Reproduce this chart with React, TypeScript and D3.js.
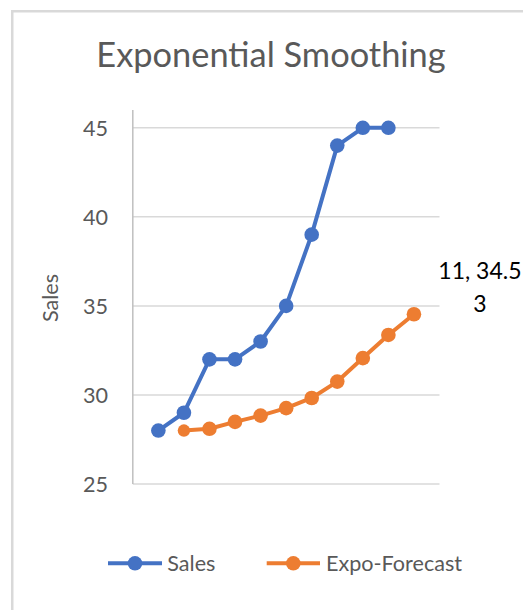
import React from "react";
import * as d3 from "d3";

const salesX = [1, 2, 3, 4, 5, 6, 7, 8, 9, 10];
const salesValues = [28, 29, 32, 32, 33, 35, 39, 44, 45, 45];
const forecastX = [2, 3, 4, 5, 6, 7, 8, 9, 10, 11];
const forecastValues = [28, 28.1, 28.49, 28.84, 29.26, 29.83, 30.75, 32.07, 33.37, 34.53];
const yTicks = [25, 30, 35, 40, 45];
const title = "Exponential Smoothing";
const yTitle = "Sales";
const seriesNames = ["Sales", "Expo-Forecast"];
const lastLabel = ["11, 34.5", "3"];

const BLUE = "#4472C4";
const ORANGE = "#ED7D31";
const FONT = "Lato, 'Open Sans', sans-serif";

export default function App() {
  const W = 523;
  const H = 610;
  const x = d3.scaleLinear().domain([0, 12]).range([132.8, 439.5]);
  const y = d3.scaleLinear().domain([25, 46]).range([484, 110]);

  const line = d3
    .line<[number, number]>()
    .x((d) => x(d[0]))
    .y((d) => y(d[1]));

  const salesPts: [number, number][] = salesX.map((v, i) => [v, salesValues[i]]);
  const fcPts: [number, number][] = forecastX.map((v, i) => [v, forecastValues[i]]);
  const last = fcPts[fcPts.length - 1];

  const r = 7.3;
  const lw = 4;
  const fs = 21.6;

  return (
    <div style={{ position: "absolute", left: 0, top: 0 }}>
      <svg width={W} height={H} style={{ display: "block", background: "#fff" }}>
        <rect x={12.25} y={11.25} width={700} height={800} fill="#fff" stroke="#d9d9d9" strokeWidth={2.5} />
        <text x={271} y={67} textAnchor="middle" fontFamily={FONT} fontSize={34.4} fill="#595959">
          {title}
        </text>
        {yTicks.map((t) => (
          <g key={t}>
            <line x1={x(0)} x2={x(12)} y1={y(t)} y2={y(t)} stroke="#d9d9d9" strokeWidth={1.5} />
            <text x={108} y={y(t)} dy="0.36em" textAnchor="end" fontFamily={FONT} fontSize={fs} fill="#595959">
              {t}
            </text>
          </g>
        ))}
        <line x1={x(0)} x2={x(0)} y1={y(46)} y2={y(25)} stroke="#bfbfbf" strokeWidth={1.5} />
        <text transform={`translate(57.5,298) rotate(-90)`} textAnchor="middle" fontFamily={FONT} fontSize={fs} fill="#595959">
          {yTitle}
        </text>
        <path d={line(salesPts) || ""} fill="none" stroke={BLUE} strokeWidth={lw} strokeLinejoin="round" />
        {salesPts.map((p, i) => (
          <circle key={i} cx={x(p[0])} cy={y(p[1])} r={r} fill={BLUE} />
        ))}
        <path d={line(fcPts) || ""} fill="none" stroke={ORANGE} strokeWidth={lw} strokeLinejoin="round" />
        {fcPts.map((p, i) => (
          <circle key={i} cx={x(p[0])} cy={y(p[1])} r={i === 0 ? 6.2 : r} fill={ORANGE} />
        ))}
        <text textAnchor="middle" fontFamily={FONT} fontSize={23} fill="#000">
          <tspan x={x(last[0]) + 66} y={y(last[1]) - 35}>{lastLabel[0]}</tspan>
          <tspan x={x(last[0]) + 66} y={y(last[1]) - 2}>{lastLabel[1]}</tspan>
        </text>
        <g>
          <line x1={108} x2={162} y1={563.3} y2={563.3} stroke={BLUE} strokeWidth={lw} />
          <circle cx={135} cy={563.3} r={r} fill={BLUE} />
          <text x={167.3} y={570.5} fontFamily={FONT} fontSize={fs} fill="#595959">
            {seriesNames[0]}
          </text>
          <line x1={266.7} x2={320} y1={563.3} y2={563.3} stroke={ORANGE} strokeWidth={lw} />
          <circle cx={293.3} cy={563.3} r={r} fill={ORANGE} />
          <text x={326} y={570.5} fontFamily={FONT} fontSize={fs} fill="#595959">
            {seriesNames[1]}
          </text>
        </g>
      </svg>
    </div>
  );
}
